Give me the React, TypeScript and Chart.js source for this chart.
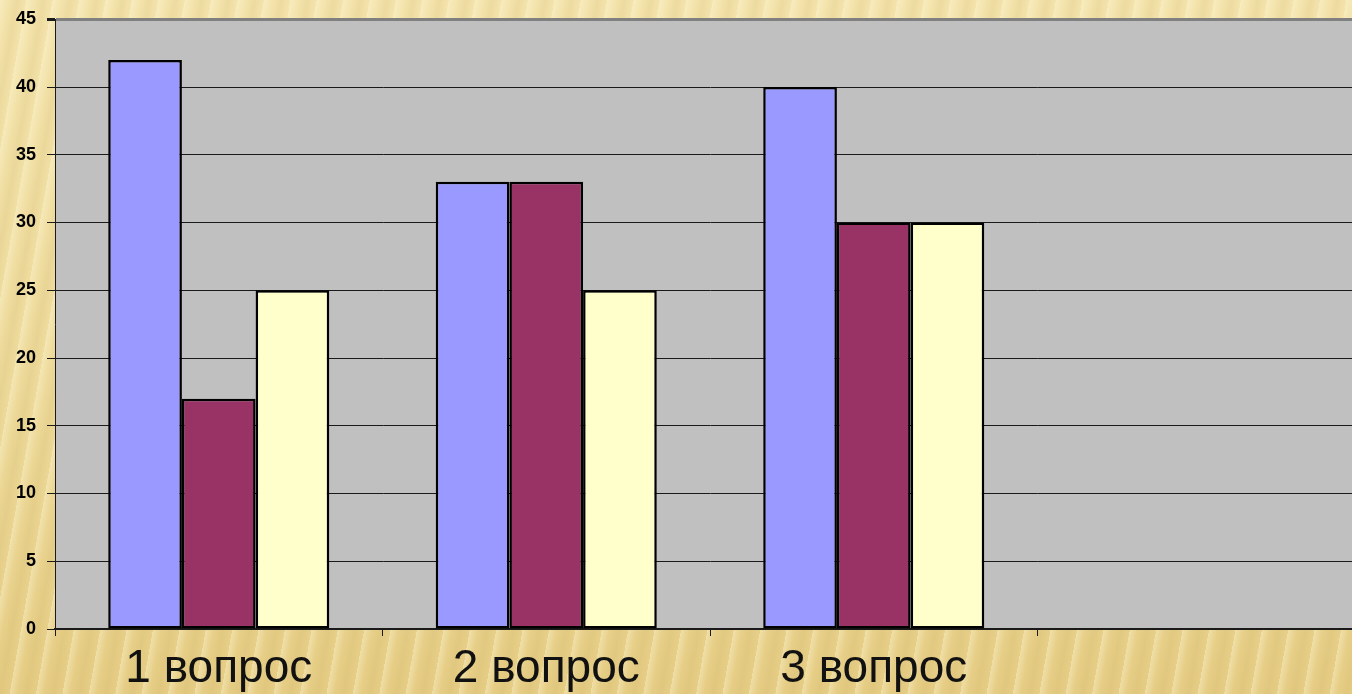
import React, { useEffect, useRef } from "react";
import { Chart, registerables } from "chart.js";

Chart.register(...registerables);

const categories = ["1 вопрос", "2 вопрос", "3 вопрос", ""];
const seriesNames = ["Ряд 1", "Ряд 2", "Ряд 3"];
const series1 = [42, 33, 40];
const series2 = [17, 33, 30];
const series3 = [25, 25, 30];
const seriesColors = ["#9999ff", "#993366", "#ffffcc"];
const yMin = 0;
const yMax = 45;
const yStep = 5;

const plotBg = {
  id: "plotBg",
  beforeDraw(chart: any) {
    const { ctx, chartArea } = chart;
    if (!chartArea) return;
    ctx.save();
    ctx.fillStyle = "#c0c0c0";
    ctx.fillRect(chartArea.left, chartArea.top, chartArea.right - chartArea.left, chartArea.bottom - chartArea.top);
    ctx.restore();
  },
};

export default function App() {
  const ref = useRef<HTMLCanvasElement | null>(null);

  useEffect(() => {
    if (!ref.current) return;
    const seriesValues = [series1, series2, series3];
    const chart = new Chart(ref.current, {
      type: "bar",
      data: {
        labels: categories,
        datasets: seriesValues.map((vals, i) => ({
          label: seriesNames[i],
          data: vals,
          backgroundColor: seriesColors[i],
          borderColor: "#000000",
          borderWidth: 2.5,
          borderSkipped: false,
          categoryPercentage: 0.675,
          barPercentage: 1.0,
        })),
      },
      options: {
        animation: false,
        responsive: false,
        devicePixelRatio: 1,
        layout: { padding: { top: 15, right: 0, bottom: 0, left: 0 } },
        plugins: {
          legend: { display: false },
          title: { display: false },
          tooltip: { enabled: false },
        },
        scales: {
          x: {
            offset: true,
            grid: {
              offset: true,
              drawOnChartArea: false,
              drawTicks: true,
              tickLength: 7,
              color: "#1a1a1a",
              lineWidth: 1,
            },
            border: { display: true, color: "#1a1a1a", width: 2 },
            ticks: {
              color: "#111111",
              padding: 6,
              maxRotation: 0,
              autoSkip: false,
              font: { family: "'Liberation Sans', Arial, sans-serif", size: 46, weight: "normal" },
            },
            afterFit(scale: any) {
              scale.height = 65;
            },
          },
          y: {
            min: yMin,
            max: yMax,
            ticks: {
              stepSize: yStep,
              color: "#000000",
              padding: 11,
              font: { family: "'Liberation Sans', Arial, sans-serif", size: 18, weight: "bold", lineHeight: 0.92 },
            },
            grid: {
              color: (c: any) => (c.tick && c.tick.value === yMax ? "#808080" : "#1a1a1a"),
              lineWidth: (c: any) => (c.tick && c.tick.value === yMax ? 3 : 1),
              tickColor: "#1a1a1a",
              tickLength: 8,
              drawTicks: true,
            },
            border: { display: true, color: "#1a1a1a", width: 1 },
            afterFit(scale: any) {
              scale.width = 55;
            },
          },
        },
      },
      plugins: [plotBg],
    });
    return () => chart.destroy();
  }, []);

  return (
    <div
      style={{
        position: "fixed",
        left: 0,
        top: 0,
        width: 1352,
        height: 694,
        overflow: "hidden",
        background:
          "repeating-linear-gradient(100deg, rgba(255,252,225,0.35) 0px, rgba(255,252,225,0) 8px, rgba(190,160,80,0.14) 17px, rgba(255,252,225,0) 26px), linear-gradient(180deg, #f4e4ad 0%, #eedb9c 55%, #e6cd85 100%)",
      }}
    >
      <canvas ref={ref} width={1365} height={694} style={{ display: "block", width: 1365, height: 694 }} />
    </div>
  );
}
